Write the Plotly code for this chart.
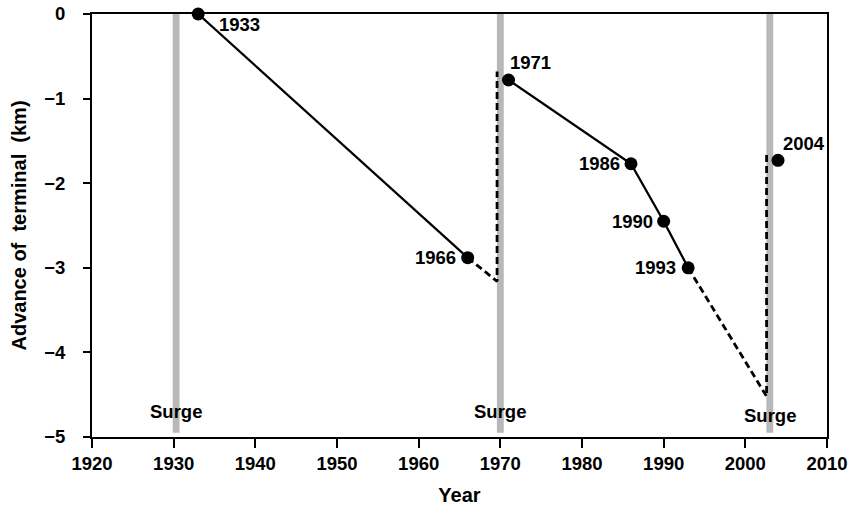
import plotly.graph_objects as go

# Observed terminus positions
obs_years = [1933, 1966, 1971, 1986, 1990, 1993, 2004]
obs_adv = [0.0, -2.88, -0.78, -1.77, -2.45, -3.00, -1.73]
obs_labels = ["1933", "1966", "1971", "1986", "1990", "1993", "2004"]

# Solid segments (observed retreat)
seg1_years = [1933, 1966]
seg1_adv = [0.0, -2.88]
seg2_years = [1971, 1986, 1990, 1993]
seg2_adv = [-0.78, -1.77, -2.45, -3.00]

# Dashed segments (inferred retreat + surge advance)
dash1_years = [1966, 1969.6, 1969.6]
dash1_adv = [-2.88, -3.16, -0.68]
dash2_years = [1993, 2002.6, 2002.6]
dash2_adv = [-3.00, -4.52, -1.63]

# Surge events
surge_years = [1930.3, 1970.0, 2003.0]
surge_label_y = [-4.70, -4.70, -4.75]

x_ticks = [1920, 1930, 1940, 1950, 1960, 1970, 1980, 1990, 2000, 2010]
y_ticks = [0, -1, -2, -3, -4, -5]

FONT = "Liberation Sans"
TXT = 18.5

fig = go.Figure()

line_style = dict(color="black", width=2.3)
fig.add_trace(go.Scatter(x=seg1_years, y=seg1_adv, mode="lines", line=line_style,
                         showlegend=False, hoverinfo="skip"))
fig.add_trace(go.Scatter(x=seg2_years, y=seg2_adv, mode="lines", line=line_style,
                         showlegend=False, hoverinfo="skip"))
dash_style = dict(color="black", width=2.8, dash="7px,4px")
fig.add_trace(go.Scatter(x=dash1_years, y=dash1_adv, mode="lines", line=dash_style,
                         showlegend=False, hoverinfo="skip"))
fig.add_trace(go.Scatter(x=dash2_years, y=dash2_adv, mode="lines", line=dash_style,
                         showlegend=False, hoverinfo="skip"))
fig.add_trace(go.Scatter(x=obs_years, y=obs_adv, mode="markers",
                         marker=dict(color="black", size=13),
                         showlegend=False, cliponaxis=False, hoverinfo="skip"))

shapes = []
for sy in surge_years:
    shapes.append(dict(type="rect", xref="x", yref="y", x0=sy - 0.42, x1=sy + 0.42,
                       y0=-4.95, y1=0, fillcolor="#b8b8b8",
                       line=dict(width=0), layer="below"))

# label offsets (pixels) relative to each point
label_pos = {
    "1933": dict(xanchor="left", yanchor="middle", xshift=19, yshift=-10),
    "1966": dict(xanchor="right", yanchor="middle", xshift=-10, yshift=0),
    "1971": dict(xanchor="left", yanchor="middle", xshift=-1, yshift=17),
    "1986": dict(xanchor="right", yanchor="middle", xshift=-9, yshift=0),
    "1990": dict(xanchor="right", yanchor="middle", xshift=-9, yshift=0),
    "1993": dict(xanchor="right", yanchor="middle", xshift=-10, yshift=0),
    "2004": dict(xanchor="left", yanchor="middle", xshift=3, yshift=17),
}
afont = dict(family=FONT, size=TXT, color="black", weight="bold")
annotations = []
for xv, yv, lab in zip(obs_years, obs_adv, obs_labels):
    annotations.append(dict(x=xv, y=yv, xref="x", yref="y", text=lab, showarrow=False,
                            font=afont, **label_pos[lab]))
for sy, ly in zip(surge_years, surge_label_y):
    annotations.append(dict(x=sy, y=ly, xref="x", yref="y", text="Surge", showarrow=False,
                            xanchor="center", yanchor="middle", font=afont))

tickfont = dict(family=FONT, size=TXT, color="black", weight="bold")
titlefont = dict(family=FONT, size=20, color="black", weight="bold")

fig.update_layout(
    width=855, height=507,
    margin=dict(l=92, r=28, t=14, b=70, autoexpand=False),
    paper_bgcolor="white", plot_bgcolor="white",
    font=dict(family=FONT, size=TXT, color="black"),
    shapes=shapes, annotations=annotations,
    xaxis=dict(range=[1920, 2010], tickvals=x_ticks, ticktext=[str(t) for t in x_ticks],
               showgrid=False, zeroline=False, showline=True, linecolor="black", linewidth=2,
               mirror=True, ticks="outside", ticklen=9, tickwidth=2, tickcolor="black",
               automargin=False, tickfont=tickfont,
               title=dict(text="Year", font=titlefont, standoff=15)),
    yaxis=dict(range=[-5, 0], tickvals=y_ticks,
               showgrid=False, zeroline=False, showline=True, linecolor="black", linewidth=2,
               mirror=True, ticks="outside", ticklen=7, tickwidth=2, tickcolor="black",
               automargin=False, tickfont=tickfont, ticklabelstandoff=14,
               title=dict(text="Advance of  terminal  (km)", font=titlefont, standoff=12)),
)

fig.write_html("out.html", config={"displayModeBar": False},
               post_script="document.body.style.margin='0px';")
